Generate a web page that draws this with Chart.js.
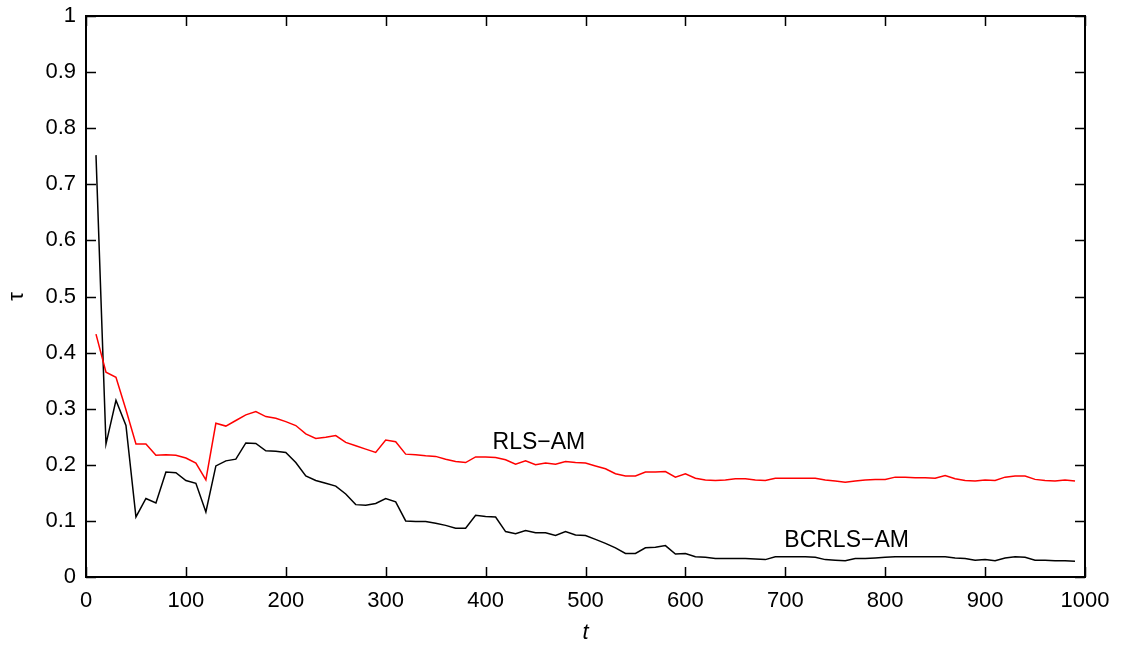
<!DOCTYPE html>
<html>
<head>
<meta charset="utf-8">
<script src="https://cdn.jsdelivr.net/npm/chart.js@4/dist/chart.umd.min.js"></script>
<style>
  body { margin: 0; background: #fff; }
  canvas { display: block; }
</style>
</head>
<body>
<canvas id="tauChart" width="1123" height="646"></canvas>
<script>
// --- data ---
const tValues = [
  10, 20, 30, 40, 50, 60, 70, 80, 90, 100,
  110, 120, 130, 140, 150, 160, 170, 180, 190, 200,
  210, 220, 230, 240, 250, 260, 270, 280, 290, 300,
  310, 320, 330, 340, 350, 360, 370, 380, 390, 400,
  410, 420, 430, 440, 450, 460, 470, 480, 490, 500,
  510, 520, 530, 540, 550, 560, 570, 580, 590, 600,
  610, 620, 630, 640, 650, 660, 670, 680, 690, 700,
  710, 720, 730, 740, 750, 760, 770, 780, 790, 800,
  810, 820, 830, 840, 850, 860, 870, 880, 890, 900,
  910, 920, 930, 940, 950, 960, 970, 980, 990
];

const rlsAM = [
  0.433, 0.365, 0.356, 0.298, 0.237, 0.237, 0.217, 0.218, 0.217, 0.212,
  0.203, 0.173, 0.274, 0.269, 0.279, 0.289, 0.295, 0.286, 0.283, 0.277,
  0.270, 0.255, 0.247, 0.249, 0.252, 0.240, 0.234, 0.228, 0.222, 0.244,
  0.241, 0.219, 0.218, 0.216, 0.215, 0.210, 0.206, 0.204, 0.214, 0.214,
  0.213, 0.209, 0.201, 0.207, 0.200, 0.203, 0.201, 0.206, 0.204, 0.203,
  0.198, 0.193, 0.184, 0.180, 0.180, 0.187, 0.187, 0.188, 0.178, 0.184,
  0.176, 0.173, 0.172, 0.173, 0.175, 0.175, 0.173, 0.172, 0.176, 0.176,
  0.176, 0.176, 0.176, 0.173, 0.171, 0.169, 0.171, 0.173, 0.174, 0.174,
  0.178, 0.178, 0.177, 0.177, 0.176, 0.181, 0.175, 0.172, 0.171, 0.173,
  0.172, 0.178, 0.180, 0.180, 0.174, 0.172, 0.171, 0.173, 0.171
];

const bcrlsAM = [
  0.752, 0.237, 0.315, 0.270, 0.107, 0.140, 0.132, 0.187, 0.186, 0.172,
  0.167, 0.116, 0.198, 0.207, 0.210, 0.239, 0.238, 0.225, 0.224, 0.222,
  0.204, 0.180, 0.172, 0.167, 0.162, 0.148, 0.129, 0.128, 0.131, 0.140,
  0.134, 0.100, 0.099, 0.099, 0.096, 0.092, 0.087, 0.087, 0.110, 0.108,
  0.107, 0.081, 0.077, 0.083, 0.079, 0.079, 0.074, 0.081, 0.075, 0.074,
  0.067, 0.060, 0.052, 0.042, 0.042, 0.052, 0.053, 0.056, 0.041, 0.042,
  0.036, 0.035, 0.033, 0.033, 0.033, 0.033, 0.032, 0.031, 0.036, 0.036,
  0.036, 0.036, 0.035, 0.031, 0.030, 0.029, 0.033, 0.033, 0.034, 0.035,
  0.036, 0.036, 0.036, 0.036, 0.036, 0.036, 0.034, 0.033, 0.030, 0.031,
  0.029, 0.034, 0.036, 0.035, 0.030, 0.030, 0.029, 0.029, 0.028
];

const xTicks = [0, 100, 200, 300, 400, 500, 600, 700, 800, 900, 1000];
const yTicks = [0, 0.1, 0.2, 0.3, 0.4, 0.5, 0.6, 0.7, 0.8, 0.9, 1];
const yTickLabels = ['0', '0.1', '0.2', '0.3', '0.4', '0.5', '0.6', '0.7', '0.8', '0.9', '1'];

// curve labels, placed in data coordinates (left edge, vertical middle)
const curveLabels = [
  { text: 'RLS\u2212AM', t: 407, v: 0.240 },
  { text: 'BCRLS\u2212AM', t: 699, v: 0.064 }
];

Chart.defaults.font.family = '"Liberation Sans", Arial, sans-serif';
Chart.defaults.color = '#000';

// frame, inward ticks on all four sides, curve labels
const framePlugin = {
  id: 'frame',
  afterDraw(chart) {
    const { ctx, chartArea: a, scales: { x, y } } = chart;
    const tick = 10;
    ctx.save();
    ctx.strokeStyle = '#000';
    ctx.lineWidth = 1.5;
    ctx.beginPath();
    xTicks.forEach(v => {
      const px = Math.round(x.getPixelForValue(v)) + 0.5;
      ctx.moveTo(px, a.bottom); ctx.lineTo(px, a.bottom - tick);
      ctx.moveTo(px, a.top); ctx.lineTo(px, a.top + tick);
    });
    yTicks.forEach(v => {
      const py = Math.round(y.getPixelForValue(v)) + 0.5;
      ctx.moveTo(a.left, py); ctx.lineTo(a.left + tick, py);
      ctx.moveTo(a.right, py); ctx.lineTo(a.right - tick, py);
    });
    ctx.stroke();
    ctx.lineWidth = 2;
    ctx.strokeRect(a.left, a.top, a.right - a.left, a.bottom - a.top);

    ctx.fillStyle = '#000';
    ctx.font = '23px "Liberation Sans", Arial, sans-serif';
    ctx.textAlign = 'left';
    ctx.textBaseline = 'middle';
    curveLabels.forEach(l => {
      ctx.fillText(l.text, x.getPixelForValue(l.t), y.getPixelForValue(l.v));
    });
    ctx.restore();
  }
};

new Chart(document.getElementById('tauChart').getContext('2d'), {
  type: 'line',
  data: {
    datasets: [
      {
        label: 'RLS-AM',
        data: tValues.map((t, i) => ({ x: t, y: rlsAM[i] })),
        borderColor: '#ff0000',
        borderWidth: 1.5,
        pointRadius: 0,
        tension: 0,
        fill: false
      },
      {
        label: 'BCRLS-AM',
        data: tValues.map((t, i) => ({ x: t, y: bcrlsAM[i] })),
        borderColor: '#000000',
        borderWidth: 1.5,
        pointRadius: 0,
        tension: 0,
        fill: false
      }
    ]
  },
  options: {
    responsive: false,
    animation: false,
    devicePixelRatio: 1,
    layout: { padding: { left: 0, right: 38, top: 16, bottom: 0 } },
    plugins: {
      legend: { display: false },
      tooltip: { enabled: false }
    },
    scales: {
      x: {
        type: 'linear',
        min: 0,
        max: 1000,
        afterBuildTicks: s => { s.ticks = xTicks.map(v => ({ value: v })); },
        afterFit: s => { s.height = 69; s.paddingLeft = 0; s.paddingRight = 0; },
        grid: { display: false, drawTicks: false },
        border: { display: false },
        ticks: {
          font: { size: 22 },
          padding: 11,
          maxRotation: 0,
          callback: v => String(v)
        },
        title: {
          display: true,
          text: 't',
          font: { size: 22, style: 'italic' },
          padding: { top: 0, bottom: 0 }
        }
      },
      y: {
        type: 'linear',
        min: 0,
        max: 1,
        afterBuildTicks: s => { s.ticks = yTicks.map(v => ({ value: v })); },
        afterFit: s => { s.width = 86; s.paddingTop = 0; s.paddingBottom = 0; },
        grid: { display: false, drawTicks: false },
        border: { display: false },
        ticks: {
          font: { size: 22 },
          padding: 10,
          callback: (v, i) => yTickLabels[i]
        },
        title: {
          display: true,
          text: '\u03c4',
          font: { size: 22 },
          padding: { top: 4, bottom: 0 }
        }
      }
    }
  },
  plugins: [framePlugin]
});
</script>
</body>
</html>
